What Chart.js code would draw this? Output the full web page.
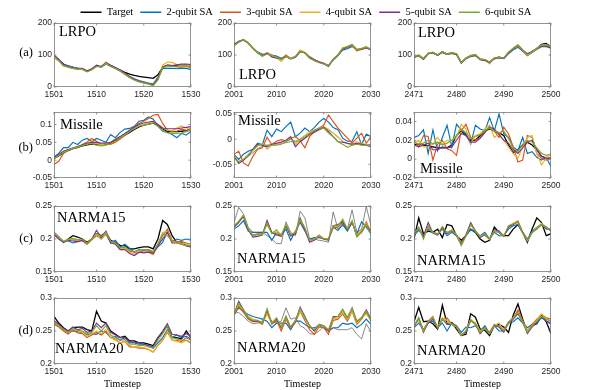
<!DOCTYPE html>
<html>
<head>
<meta charset="utf-8">
<script src="https://cdn.jsdelivr.net/npm/chart.js@4.4.1/dist/chart.umd.min.js"></script>
<style>
  body { margin: 0; background: #fff; width: 612px; height: 390px; position: relative; overflow: hidden; }
  canvas { position: absolute; }
</style>
</head>
<body>
<canvas id="legend" width="612" height="80" style="left:0;top:0px;width:612px;height:80px"></canvas>
<script>
const seriesNames = ['Target', '2-qubit SA', '3-qubit SA', '4-qubit SA', '5-qubit SA', '6-qubit SA'];
const seriesColors = ['#000000', '#0072BD', '#D95319', '#EDB120', '#7E2F8E', '#77AC30'];

// timesteps of each column
const steps1 = [1501,1502,1503,1504,1505,1506,1507,1508,1509,1510,1511,1512,1513,1514,1515,1516,1517,1518,1519,1520,1521,1522,1523,1524,1525,1526,1527,1528,1529,1530];
const steps2 = [2001,2002,2003,2004,2005,2006,2007,2008,2009,2010,2011,2012,2013,2014,2015,2016,2017,2018,2019,2020,2021,2022,2023,2024,2025,2026,2027,2028,2029,2030];
const steps3 = [2471,2472,2473,2474,2475,2476,2477,2478,2479,2480,2481,2482,2483,2484,2485,2486,2487,2488,2489,2490,2491,2492,2493,2494,2495,2496,2497,2498,2499,2500];
const xTicks1 = [1501, 1510, 1520, 1530];
const xTicks2 = [2001, 2010, 2020, 2030];
const xTicks3 = [2471, 2480, 2490, 2500];

const yTicksLrpo = [0, 100, 200];
const yTicksMissile1 = [-0.05, 0, 0.05, 0.1];
const yTicksMissile2 = [-0.05, 0, 0.05];
const yTicksMissile3 = [-0.02, 0, 0.02, 0.04];
const yTicksNarma15 = [0.15, 0.2, 0.25];
const yTicksNarma20 = [0.2, 0.25, 0.3];

// (a) LRPO
const lrpo1Target = [95,84,72,64,61,58,56,49,55,66,63,74,66,60,53,46,40,36,33,31,29,27,38,62,68,67,67,68,68,64];
const lrpo1Q2 = [98,84,70,67,62,58,56,49,55,67,62,72,65,58,50,42,33,26,20,16,12,10,30,58,58,58,57,58,58,54];
const lrpo1Q3 = [94,83,67,62,58,56,55,48,56,64,64,73,66,59,50,40,30,22,17,14,11,8,25,60,66,64,63,62,64,60];
const lrpo1Q4 = [96,84,68,64,60,57,55,50,56,65,63,78,68,60,52,42,32,24,18,14,10,6,24,68,78,77,70,66,67,66];
const lrpo1Q5 = [100,87,70,64,60,58,58,51,57,68,64,76,68,61,53,43,33,25,18,14,10,6,26,63,68,67,69,72,72,70];
const lrpo1Q6 = [92,82,66,62,58,56,56,47,54,64,62,74,64,58,50,40,30,22,16,12,9,4,22,60,66,64,64,66,66,64];

const lrpo2Target = [133,142,148,138,122,108,98,106,100,95,88,97,90,95,112,107,93,85,79,74,67,87,100,120,126,133,117,120,125,118];
const lrpo2Q2 = [130,140,147,137,121,110,102,104,100,97,90,95,88,93,110,108,95,86,78,73,66,85,98,115,120,127,118,118,122,116];
const lrpo2Q3 = [132,142,149,138,121,107,97,107,99,93,87,100,89,95,111,106,92,84,79,74,67,86,100,118,124,130,113,117,122,118];
const lrpo2Q4 = [131,141,148,139,123,109,98,108,98,92,80,96,90,96,116,109,94,85,78,72,66,88,101,123,127,134,118,121,126,118];
const lrpo2Q5 = [133,143,147,138,121,106,98,106,94,90,88,96,88,94,111,107,92,84,78,73,64,86,99,119,125,131,116,119,124,116];
const lrpo2Q6 = [128,141,148,137,120,107,96,103,99,94,86,95,88,95,112,106,90,82,76,72,67,87,100,121,126,132,116,120,125,117];

const lrpo3Target = [93,99,88,105,108,100,110,103,107,103,76,90,97,100,87,85,77,90,93,90,107,120,131,115,100,110,120,133,136,126];
const lrpo3Q2 = [92,97,87,104,106,99,108,102,105,101,75,88,95,98,85,83,76,88,91,89,104,116,124,112,99,108,118,126,126,122];
const lrpo3Q3 = [94,98,89,105,107,100,109,103,106,102,76,89,97,100,86,84,77,89,92,90,106,119,128,114,98,109,118,128,128,120];
const lrpo3Q4 = [95,100,88,106,108,101,110,104,108,104,77,91,99,102,88,86,72,91,93,91,108,121,132,116,100,111,121,131,132,124];
const lrpo3Q5 = [93,99,86,104,107,100,109,103,106,103,76,90,98,100,86,84,76,90,93,90,107,120,130,116,104,112,120,128,128,122];
const lrpo3Q6 = [94,98,88,105,108,100,110,103,107,103,76,90,98,101,87,86,77,90,93,90,108,121,130,115,100,110,120,131,133,126];

// (b) Missile
const missile1Target = [0.005,0.012,0.02,0.027,0.032,0.036,0.04,0.043,0.045,0.044,0.044,0.045,0.048,0.055,0.062,0.07,0.078,0.086,0.093,0.098,0.101,0.104,0.098,0.088,0.08,0.08,0.08,0.081,0.083,0.085];
const missile1Q2 = [0.009,0.019,0.035,0.035,0.05,0.044,0.056,0.061,0.053,0.061,0.056,0.05,0.072,0.063,0.078,0.087,0.089,0.095,0.109,0.112,0.121,0.115,0.096,0.081,0.078,0.072,0.063,0.075,0.07,0.081];
const missile1Q3 = [-0.012,-0.003,0.019,0.028,0.033,0.035,0.044,0.051,0.061,0.053,0.044,0.047,0.044,0.05,0.059,0.07,0.081,0.093,0.103,0.109,0.117,0.126,0.128,0.103,0.084,0.081,0.081,0.087,0.084,0.087];
const missile1Q4 = [0.006,0.014,0.024,0.03,0.034,0.038,0.042,0.045,0.055,0.046,0.043,0.046,0.05,0.06,0.066,0.074,0.082,0.09,0.096,0.1,0.104,0.108,0.1,0.09,0.084,0.082,0.09,0.096,0.09,0.088];
const missile1Q5 = [0.008,0.016,0.025,0.03,0.034,0.038,0.043,0.047,0.05,0.05,0.048,0.048,0.05,0.058,0.066,0.075,0.084,0.093,0.1,0.104,0.107,0.109,0.1,0.09,0.088,0.088,0.088,0.09,0.092,0.094];
const missile1Q6 = [0.004,0.012,0.022,0.028,0.033,0.037,0.041,0.045,0.046,0.042,0.04,0.042,0.046,0.054,0.062,0.071,0.08,0.088,0.095,0.098,0.101,0.104,0.094,0.084,0.076,0.075,0.075,0.076,0.08,0.085];

const missile2Target = [-0.035,-0.045,-0.04,-0.034,-0.027,-0.019,-0.014,-0.012,-0.011,-0.01,-0.009,-0.007,-0.005,-0.004,-0.003,0.002,0.008,0.013,0.018,0.022,0.018,0.012,0.004,-0.004,-0.009,-0.01,-0.01,-0.01,-0.011,-0.012];
const missile2Q2 = [-0.03,-0.04,-0.03,-0.024,-0.02,-0.008,-0.011,0.018,0.005,0.02,0.015,0.025,0.034,0.005,0.012,0.022,0.015,0.023,0.034,0.041,0.034,0.023,0.019,0.002,-0.004,-0.004,0.015,-0.011,0.01,0.005];
const missile2Q3 = [-0.03,-0.024,-0.047,-0.053,-0.034,-0.02,-0.017,0.004,-0.011,-0.004,-0.001,-0.003,0.002,0.005,-0.003,-0.017,0.005,0.015,0.022,0.028,0.048,0.035,0.022,0.012,0.002,-0.008,0.002,0.012,-0.008,0.005];
const missile2Q4 = [-0.032,-0.045,-0.04,-0.03,-0.022,-0.014,-0.008,-0.02,-0.012,-0.008,-0.005,-0.003,0.002,-0.01,0,0.008,0.015,0.018,0.022,0.025,0.02,0.012,0.005,-0.005,-0.008,-0.012,-0.005,-0.008,-0.01,-0.012];
const missile2Q5 = [-0.035,-0.048,-0.042,-0.033,-0.02,-0.01,-0.012,-0.015,-0.01,-0.008,-0.006,-0.002,0.005,-0.015,-0.005,0.002,0.01,0.015,0.02,0.024,0.015,0.005,-0.005,-0.006,-0.008,-0.01,-0.008,-0.01,-0.012,-0.015];
const missile2Q6 = [-0.038,-0.045,-0.04,-0.032,-0.022,-0.012,-0.01,-0.012,-0.012,-0.012,-0.01,-0.005,0,-0.005,0,0.005,0.012,0.018,0.022,0.022,0.012,0.005,-0.005,-0.01,-0.016,-0.012,-0.01,-0.012,-0.012,-0.01];

const missile3Target = [0.015,0.016,0.015,0.014,0.013,0.012,0.012,0.012,0.015,0.025,0.03,0.025,0.02,0.02,0.025,0.03,0.032,0.03,0.028,0.025,0.015,0.007,0.01,0.015,0.018,0.015,0.01,0.003,0.001,0.001];
const missile3Q2 = [0.023,0.025,0.031,0.006,0.031,0.009,0.023,0.036,0.013,0.037,0.031,0.027,0.016,0.036,0.032,0.03,0.044,0.03,0.048,0.027,0.023,0.013,0.009,0.023,0.006,0.008,0.002,-0.001,0.002,-0.008];
const missile3Q3 = [0.02,0.013,0.025,0.024,-0.001,0.016,0.02,0.011,0.009,0.004,0.03,0.037,0.023,0.02,0.023,0.029,0.034,0.03,0.023,0.034,0.027,0.013,-0.003,-0.001,0.025,0.023,0.006,0.001,-0.001,0.002];
const missile3Q4 = [0.016,0.02,0.013,0.013,0.016,0.023,0.016,0.02,0.02,0.023,0.037,0.032,0.016,0.025,0.027,0.032,0.036,0.023,0.027,0.02,0.013,0.006,0.001,0.013,0.023,0.025,0.006,-0.006,0.001,0.006];
const missile3Q5 = [0.015,0.013,0.015,0.017,0.01,0.01,0.013,0.012,0.013,0.02,0.027,0.025,0.018,0.018,0.022,0.028,0.034,0.032,0.026,0.02,0.017,0.01,0.006,0.012,0.018,0.02,0.01,0.003,0.001,0];
const missile3Q6 = [0.018,0.016,0.017,0.02,0.016,0.018,0.015,0.017,0.02,0.025,0.032,0.028,0.022,0.024,0.026,0.03,0.033,0.03,0.028,0.03,0.022,0.012,0.008,0.016,0.02,0.018,0.012,0.006,0.004,0.005];

// (c) NARMA15
const narma15_1Target = [0.21,0.203,0.195,0.2,0.205,0.203,0.2,0.195,0.2,0.208,0.205,0.21,0.198,0.195,0.19,0.19,0.185,0.185,0.187,0.188,0.188,0.185,0.2,0.228,0.222,0.205,0.195,0.195,0.19,0.188];
const narma15_1Q2 = [0.209,0.202,0.197,0.197,0.194,0.196,0.198,0.193,0.2,0.206,0.2,0.208,0.194,0.198,0.188,0.192,0.186,0.18,0.184,0.183,0.184,0.18,0.188,0.195,0.212,0.196,0.2,0.198,0.2,0.198];
const narma15_1Q3 = [0.208,0.201,0.196,0.2,0.199,0.198,0.197,0.192,0.199,0.205,0.201,0.207,0.196,0.194,0.186,0.188,0.182,0.18,0.18,0.182,0.182,0.178,0.19,0.205,0.215,0.198,0.196,0.196,0.194,0.192];
const narma15_1Q4 = [0.21,0.202,0.197,0.199,0.2,0.198,0.198,0.194,0.2,0.207,0.2,0.209,0.196,0.193,0.185,0.186,0.18,0.177,0.18,0.18,0.18,0.176,0.192,0.21,0.212,0.196,0.195,0.194,0.192,0.19];
const narma15_1Q5 = [0.207,0.2,0.195,0.198,0.197,0.196,0.198,0.193,0.2,0.213,0.202,0.212,0.194,0.192,0.184,0.184,0.178,0.175,0.18,0.179,0.18,0.178,0.19,0.2,0.21,0.194,0.194,0.192,0.19,0.188];
const narma15_1Q6 = [0.21,0.203,0.196,0.199,0.201,0.199,0.2,0.193,0.2,0.208,0.204,0.21,0.197,0.194,0.187,0.188,0.183,0.181,0.183,0.184,0.184,0.181,0.193,0.208,0.205,0.197,0.194,0.192,0.19,0.19];

const narma15_2Target = [0.225,0.248,0.238,0.218,0.21,0.21,0.21,0.205,0.2,0.193,0.193,0.226,0.21,0.205,0.242,0.232,0.2,0.2,0.198,0.197,0.195,0.241,0.215,0.22,0.215,0.244,0.21,0.215,0.249,0.22];
const narma15_2Q2 = [0.215,0.22,0.228,0.212,0.21,0.21,0.21,0.21,0.198,0.21,0.205,0.215,0.198,0.212,0.225,0.212,0.2,0.202,0.202,0.2,0.2,0.218,0.213,0.222,0.212,0.225,0.208,0.226,0.218,0.208];
const narma15_2Q3 = [0.218,0.225,0.235,0.215,0.206,0.208,0.208,0.222,0.21,0.208,0.205,0.22,0.205,0.208,0.228,0.215,0.198,0.2,0.206,0.2,0.2,0.217,0.218,0.225,0.215,0.225,0.207,0.212,0.226,0.21];
const narma15_2Q4 = [0.22,0.226,0.236,0.216,0.205,0.206,0.207,0.224,0.21,0.21,0.207,0.222,0.206,0.21,0.23,0.216,0.197,0.2,0.205,0.201,0.199,0.22,0.22,0.228,0.216,0.226,0.206,0.214,0.224,0.212];
const narma15_2Q5 = [0.218,0.226,0.234,0.214,0.203,0.204,0.206,0.228,0.21,0.206,0.204,0.22,0.205,0.208,0.232,0.214,0.195,0.198,0.204,0.2,0.198,0.22,0.222,0.226,0.214,0.226,0.204,0.21,0.222,0.21];
const narma15_2Q6 = [0.22,0.227,0.236,0.216,0.205,0.207,0.206,0.224,0.208,0.214,0.205,0.222,0.207,0.21,0.23,0.217,0.198,0.2,0.204,0.2,0.2,0.22,0.22,0.23,0.215,0.228,0.203,0.21,0.222,0.206];

const narma15_3Target = [0.2,0.232,0.208,0.212,0.21,0.215,0.202,0.222,0.22,0.205,0.198,0.205,0.215,0.21,0.2,0.195,0.198,0.218,0.21,0.205,0.205,0.215,0.222,0.21,0.195,0.215,0.232,0.225,0.205,0.208];
const narma15_3Q2 = [0.205,0.213,0.205,0.215,0.21,0.208,0.215,0.205,0.21,0.205,0.195,0.205,0.215,0.21,0.205,0.21,0.2,0.21,0.205,0.205,0.215,0.22,0.222,0.21,0.2,0.212,0.218,0.222,0.215,0.215];
const narma15_3Q3 = [0.207,0.217,0.204,0.218,0.21,0.207,0.216,0.21,0.213,0.206,0.194,0.206,0.222,0.212,0.203,0.206,0.199,0.212,0.21,0.204,0.218,0.223,0.226,0.21,0.198,0.21,0.216,0.222,0.218,0.212];
const narma15_3Q4 = [0.206,0.216,0.204,0.219,0.21,0.206,0.218,0.21,0.214,0.207,0.193,0.205,0.222,0.213,0.204,0.207,0.2,0.212,0.211,0.205,0.219,0.224,0.228,0.21,0.198,0.21,0.217,0.224,0.218,0.213];
const narma15_3Q5 = [0.206,0.217,0.204,0.225,0.209,0.206,0.218,0.208,0.212,0.205,0.192,0.206,0.225,0.212,0.202,0.207,0.2,0.214,0.212,0.204,0.218,0.222,0.226,0.21,0.197,0.21,0.215,0.222,0.218,0.212];
const narma15_3Q6 = [0.208,0.218,0.2,0.22,0.21,0.207,0.219,0.209,0.213,0.206,0.19,0.204,0.222,0.212,0.203,0.208,0.2,0.213,0.21,0.204,0.22,0.223,0.225,0.209,0.197,0.21,0.216,0.222,0.217,0.212];

// (d) NARMA20
const narma20_1Target = [0.272,0.262,0.255,0.25,0.255,0.256,0.256,0.252,0.25,0.28,0.265,0.262,0.25,0.245,0.24,0.242,0.235,0.235,0.232,0.232,0.23,0.228,0.24,0.248,0.258,0.24,0.24,0.238,0.25,0.24];
const narma20_1Q2 = [0.262,0.258,0.252,0.248,0.25,0.249,0.248,0.244,0.246,0.245,0.25,0.248,0.24,0.242,0.236,0.24,0.232,0.232,0.23,0.23,0.228,0.224,0.232,0.24,0.252,0.24,0.244,0.24,0.242,0.238];
const narma20_1Q3 = [0.26,0.256,0.25,0.245,0.252,0.247,0.246,0.24,0.244,0.248,0.244,0.25,0.24,0.238,0.232,0.234,0.226,0.226,0.224,0.224,0.222,0.218,0.228,0.236,0.248,0.236,0.236,0.234,0.24,0.236];
const narma20_1Q4 = [0.264,0.258,0.252,0.248,0.254,0.25,0.248,0.242,0.246,0.25,0.246,0.252,0.24,0.236,0.232,0.234,0.228,0.226,0.226,0.225,0.222,0.218,0.228,0.236,0.25,0.236,0.234,0.232,0.236,0.232];
const narma20_1Q5 = [0.266,0.26,0.254,0.25,0.256,0.252,0.254,0.248,0.25,0.262,0.255,0.262,0.248,0.244,0.24,0.24,0.234,0.233,0.232,0.23,0.228,0.226,0.24,0.25,0.261,0.245,0.244,0.242,0.246,0.242];
const narma20_1Q6 = [0.262,0.258,0.252,0.248,0.254,0.251,0.25,0.246,0.248,0.258,0.25,0.258,0.244,0.24,0.236,0.237,0.23,0.23,0.228,0.228,0.226,0.224,0.236,0.246,0.258,0.24,0.238,0.236,0.236,0.232];

const narma20_2Target = [0.277,0.278,0.272,0.265,0.261,0.262,0.265,0.275,0.265,0.262,0.265,0.285,0.268,0.27,0.258,0.254,0.246,0.245,0.25,0.256,0.25,0.255,0.252,0.252,0.252,0.255,0.245,0.238,0.261,0.248];
const narma20_2Q2 = [0.275,0.285,0.28,0.275,0.272,0.27,0.268,0.265,0.255,0.262,0.262,0.262,0.252,0.265,0.265,0.26,0.255,0.255,0.258,0.255,0.25,0.255,0.255,0.262,0.26,0.262,0.255,0.26,0.268,0.26];
const narma20_2Q3 = [0.274,0.288,0.278,0.268,0.264,0.264,0.26,0.278,0.26,0.266,0.25,0.268,0.254,0.263,0.28,0.266,0.252,0.245,0.256,0.255,0.245,0.266,0.268,0.276,0.265,0.28,0.26,0.268,0.278,0.265];
const narma20_2Q4 = [0.276,0.29,0.282,0.272,0.268,0.266,0.262,0.276,0.262,0.268,0.254,0.27,0.256,0.266,0.28,0.27,0.258,0.25,0.258,0.258,0.25,0.268,0.27,0.278,0.268,0.28,0.262,0.27,0.276,0.266];
const narma20_2Q5 = [0.276,0.295,0.282,0.27,0.265,0.265,0.262,0.282,0.262,0.268,0.255,0.272,0.255,0.265,0.286,0.272,0.258,0.25,0.26,0.258,0.25,0.272,0.272,0.282,0.27,0.285,0.265,0.27,0.282,0.268];
const narma20_2Q6 = [0.277,0.292,0.282,0.27,0.266,0.266,0.262,0.284,0.262,0.27,0.256,0.272,0.256,0.266,0.284,0.27,0.258,0.252,0.26,0.258,0.252,0.27,0.272,0.283,0.27,0.284,0.264,0.27,0.28,0.266];

const narma20_3Target = [0.264,0.286,0.264,0.265,0.261,0.253,0.289,0.261,0.263,0.253,0.243,0.245,0.276,0.271,0.253,0.251,0.243,0.258,0.26,0.256,0.248,0.274,0.291,0.268,0.248,0.258,0.261,0.274,0.264,0.246];
const narma20_3Q2 = [0.255,0.262,0.252,0.262,0.265,0.255,0.262,0.25,0.262,0.258,0.248,0.256,0.255,0.258,0.25,0.258,0.246,0.258,0.25,0.25,0.262,0.264,0.27,0.262,0.255,0.26,0.262,0.27,0.265,0.262];
const narma20_3Q3 = [0.258,0.268,0.252,0.265,0.272,0.255,0.268,0.27,0.26,0.258,0.244,0.25,0.266,0.262,0.25,0.255,0.248,0.26,0.258,0.252,0.264,0.27,0.282,0.266,0.25,0.26,0.268,0.275,0.27,0.268];
const narma20_3Q4 = [0.26,0.266,0.25,0.264,0.27,0.256,0.27,0.266,0.26,0.256,0.244,0.25,0.268,0.262,0.25,0.254,0.246,0.258,0.262,0.25,0.262,0.27,0.278,0.265,0.25,0.258,0.266,0.276,0.268,0.266];
const narma20_3Q5 = [0.256,0.27,0.248,0.262,0.268,0.254,0.268,0.26,0.26,0.256,0.244,0.248,0.266,0.26,0.246,0.254,0.246,0.258,0.256,0.248,0.262,0.268,0.276,0.264,0.246,0.256,0.264,0.272,0.265,0.26];
const narma20_3Q6 = [0.258,0.27,0.25,0.264,0.27,0.255,0.268,0.262,0.26,0.256,0.243,0.25,0.266,0.26,0.248,0.254,0.246,0.258,0.258,0.25,0.262,0.27,0.278,0.262,0.248,0.258,0.265,0.272,0.268,0.264];

// page layout (pixels)
const colLeft = [54, 234, 414];
const plotW = 137;
const rowTop = [23, 112, 206, 298];
const rowH = [64, 66, 66, 66];
const rowTags = ['(a)', '(b)', '(c)', '(d)'];
const tagY = [29.5, 36, 32.5, 33];
const tickFont = { family: 'Liberation Sans', size: 8.5 };

const panels = [
  { row: 0, col: 0, steps: steps1, xTicks: xTicks1, yMin: 0, yMax: 200, yTicks: yTicksLrpo, name: 'LRPO', nx: 5, ny: 13,
    series: [lrpo1Target, lrpo1Q2, lrpo1Q3, lrpo1Q4, lrpo1Q5, lrpo1Q6] },
  { row: 0, col: 1, steps: steps2, xTicks: xTicks2, yMin: 0, yMax: 200, yTicks: yTicksLrpo, name: 'LRPO', nx: 5, ny: 56,
    series: [lrpo2Target, lrpo2Q2, lrpo2Q3, lrpo2Q4, lrpo2Q5, lrpo2Q6] },
  { row: 0, col: 2, steps: steps3, xTicks: xTicks3, yMin: 0, yMax: 200, yTicks: yTicksLrpo, name: 'LRPO', nx: 4, ny: 14,
    series: [lrpo3Target, lrpo3Q2, lrpo3Q3, lrpo3Q4, lrpo3Q5, lrpo3Q6] },
  { row: 1, col: 0, steps: steps1, xTicks: xTicks1, yMin: -0.05, yMax: 0.135, yTicks: yTicksMissile1, name: 'Missile', nx: 6, ny: 17,
    series: [missile1Target, missile1Q2, missile1Q3, missile1Q4, missile1Q5, missile1Q6] },
  { row: 1, col: 1, steps: steps2, xTicks: xTicks2, yMin: -0.077, yMax: 0.054, yTicks: yTicksMissile2, name: 'Missile', nx: 4, ny: 13,
    series: [missile2Target, missile2Q2, missile2Q3, missile2Q4, missile2Q5, missile2Q6] },
  { row: 1, col: 2, steps: steps3, xTicks: xTicks3, yMin: -0.02, yMax: 0.05, yTicks: yTicksMissile3, name: 'Missile', nx: 6, ny: 61,
    series: [missile3Target, missile3Q2, missile3Q3, missile3Q4, missile3Q5, missile3Q6] },
  { row: 2, col: 0, steps: steps1, xTicks: xTicks1, yMin: 0.15, yMax: 0.25, yTicks: yTicksNarma15, name: 'NARMA15', nx: 3, ny: 16,
    series: [narma15_1Target, narma15_1Q2, narma15_1Q3, narma15_1Q4, narma15_1Q5, narma15_1Q6] },
  { row: 2, col: 1, steps: steps2, xTicks: xTicks2, yMin: 0.15, yMax: 0.25, yTicks: yTicksNarma15, name: 'NARMA15', nx: 3, ny: 57,
    series: [narma15_2Target, narma15_2Q2, narma15_2Q3, narma15_2Q4, narma15_2Q5, narma15_2Q6] },
  { row: 2, col: 2, steps: steps3, xTicks: xTicks3, yMin: 0.15, yMax: 0.25, yTicks: yTicksNarma15, name: 'NARMA15', nx: 3, ny: 59,
    series: [narma15_3Target, narma15_3Q2, narma15_3Q3, narma15_3Q4, narma15_3Q5, narma15_3Q6] },
  { row: 3, col: 0, steps: steps1, xTicks: xTicks1, yMin: 0.2, yMax: 0.3, yTicks: yTicksNarma20, name: 'NARMA20', nx: 1, ny: 55,
    series: [narma20_1Target, narma20_1Q2, narma20_1Q3, narma20_1Q4, narma20_1Q5, narma20_1Q6] },
  { row: 3, col: 1, steps: steps2, xTicks: xTicks2, yMin: 0.2, yMax: 0.3, yTicks: yTicksNarma20, name: 'NARMA20', nx: 3, ny: 54,
    series: [narma20_2Target, narma20_2Q2, narma20_2Q3, narma20_2Q4, narma20_2Q5, narma20_2Q6] },
  { row: 3, col: 2, steps: steps3, xTicks: xTicks3, yMin: 0.2, yMax: 0.3, yTicks: yTicksNarma20, name: 'NARMA20', nx: 3, ny: 57,
    series: [narma20_3Target, narma20_3Q2, narma20_3Q3, narma20_3Q4, narma20_3Q5, narma20_3Q6] },
];

// box, inner tick marks and the text labels of one subplot
const panelDecor = {
  id: 'panelDecor',
  afterDraw(chart, args, opts) {
    const { ctx, chartArea: a, scales } = chart;
    ctx.save();
    ctx.strokeStyle = '#7a7a7a';
    ctx.lineWidth = 0.8;
    ctx.strokeRect(a.left + 0.5, a.top + 0.5, a.right - a.left - 1, a.bottom - a.top - 1);
    ctx.beginPath();
    scales.x.ticks.forEach(t => {
      const px = scales.x.getPixelForValue(t.value);
      ctx.moveTo(px, a.bottom); ctx.lineTo(px, a.bottom - 2.5);
      ctx.moveTo(px, a.top); ctx.lineTo(px, a.top + 2.5);
    });
    scales.y.ticks.forEach(t => {
      const py = scales.y.getPixelForValue(t.value);
      ctx.moveTo(a.left, py); ctx.lineTo(a.left + 2.5, py);
      ctx.moveTo(a.right, py); ctx.lineTo(a.right - 2.5, py);
    });
    ctx.stroke();

    ctx.fillStyle = '#000';
    ctx.font = '14.5px "Liberation Serif"';
    ctx.textAlign = 'left';
    ctx.textBaseline = 'alphabetic';
    ctx.fillText(opts.name, a.left + opts.nx, a.top + opts.ny);
    if (opts.tag) {
      ctx.font = '12.5px "Liberation Serif"';
      ctx.textAlign = 'right';
      ctx.textBaseline = 'middle';
      ctx.fillText(opts.tag, a.left - 21, a.top + opts.tagY);
    }
    if (opts.xTitle) {
      ctx.font = '10px "Liberation Serif"';
      ctx.textAlign = 'center';
      ctx.textBaseline = 'middle';
      ctx.fillText(opts.xTitle, (a.left + a.right) / 2, a.bottom + 20);
    }
    ctx.restore();
  }
};

panels.forEach(p => {
  const bottomSpace = p.row === 3 ? 30 : 20;
  const w = 40 + plotW + 14;
  const h = 8 + rowH[p.row] + bottomSpace;
  const canvas = document.createElement('canvas');
  canvas.width = w;
  canvas.height = h;
  canvas.style.left = (colLeft[p.col] - 40) + 'px';
  canvas.style.top = (rowTop[p.row] - 8) + 'px';
  canvas.style.width = w + 'px';
  canvas.style.height = h + 'px';
  document.body.appendChild(canvas);

  const datasets = p.series.map((vals, i) => ({
    label: seriesNames[i],
    data: vals.map((v, j) => ({ x: p.steps[j], y: v })),
    borderColor: (i === 0 && p.col === 1) ? '#555555' : seriesColors[i],
    borderWidth: i === 0 ? (p.col === 1 ? 0.7 : 1.3) : 1.15,
    pointRadius: 0,
    tension: 0,
    fill: false
  })).reverse(); // target drawn first, 6-qubit on top

  new Chart(canvas, {
    type: 'line',
    data: { datasets },
    plugins: [panelDecor],
    options: {
      responsive: false,
      animation: false,
      devicePixelRatio: 1,
      layout: { padding: { top: 8, right: 14, left: 0, bottom: 0 } },
      scales: {
        x: {
          type: 'linear',
          min: p.steps[0],
          max: p.steps[p.steps.length - 1],
          afterBuildTicks: s => { s.ticks = p.xTicks.map(v => ({ value: v })); },
          afterFit: s => { s.height = bottomSpace; },
          grid: { display: false, drawTicks: false },
          border: { display: false },
          ticks: { callback: v => String(v), font: tickFont, color: '#262626', padding: 3, maxRotation: 0, autoSkip: false }
        },
        y: {
          min: p.yMin,
          max: p.yMax,
          afterBuildTicks: s => { s.ticks = p.yTicks.map(v => ({ value: v })); },
          afterFit: s => { s.width = 40; },
          grid: { display: false, drawTicks: false },
          border: { display: false },
          ticks: { callback: v => String(v), font: tickFont, color: '#262626', padding: 2 }
        }
      },
      plugins: {
        legend: { display: false },
        tooltip: { enabled: false },
        panelDecor: {
          name: p.name, nx: p.nx, ny: p.ny,
          tag: p.col === 0 ? rowTags[p.row] : null,
          tagY: tagY[p.row],
          xTitle: p.row === 3 ? 'Timestep' : null
        }
      }
    }
  });
});

// shared legend along the top
new Chart(document.getElementById('legend'), {
  type: 'line',
  data: {
    datasets: seriesNames.map((name, i) => ({ label: name, data: [], borderColor: seriesColors[i], borderWidth: 1.5 }))
  },
  options: {
    responsive: false,
    animation: false,
    devicePixelRatio: 1,
    layout: { padding: 0 },
    scales: { x: { display: false }, y: { display: false } },
    plugins: {
      tooltip: { enabled: false },
      legend: {
        display: true,
        position: 'top',
        labels: {
          usePointStyle: true,
          pointStyle: 'line',
          pointStyleWidth: 21,
          color: '#000',
          padding: 7,
          font: { family: 'Liberation Serif', size: 10.5 }
        }
      }
    }
  }
});
</script>
</body>
</html>
